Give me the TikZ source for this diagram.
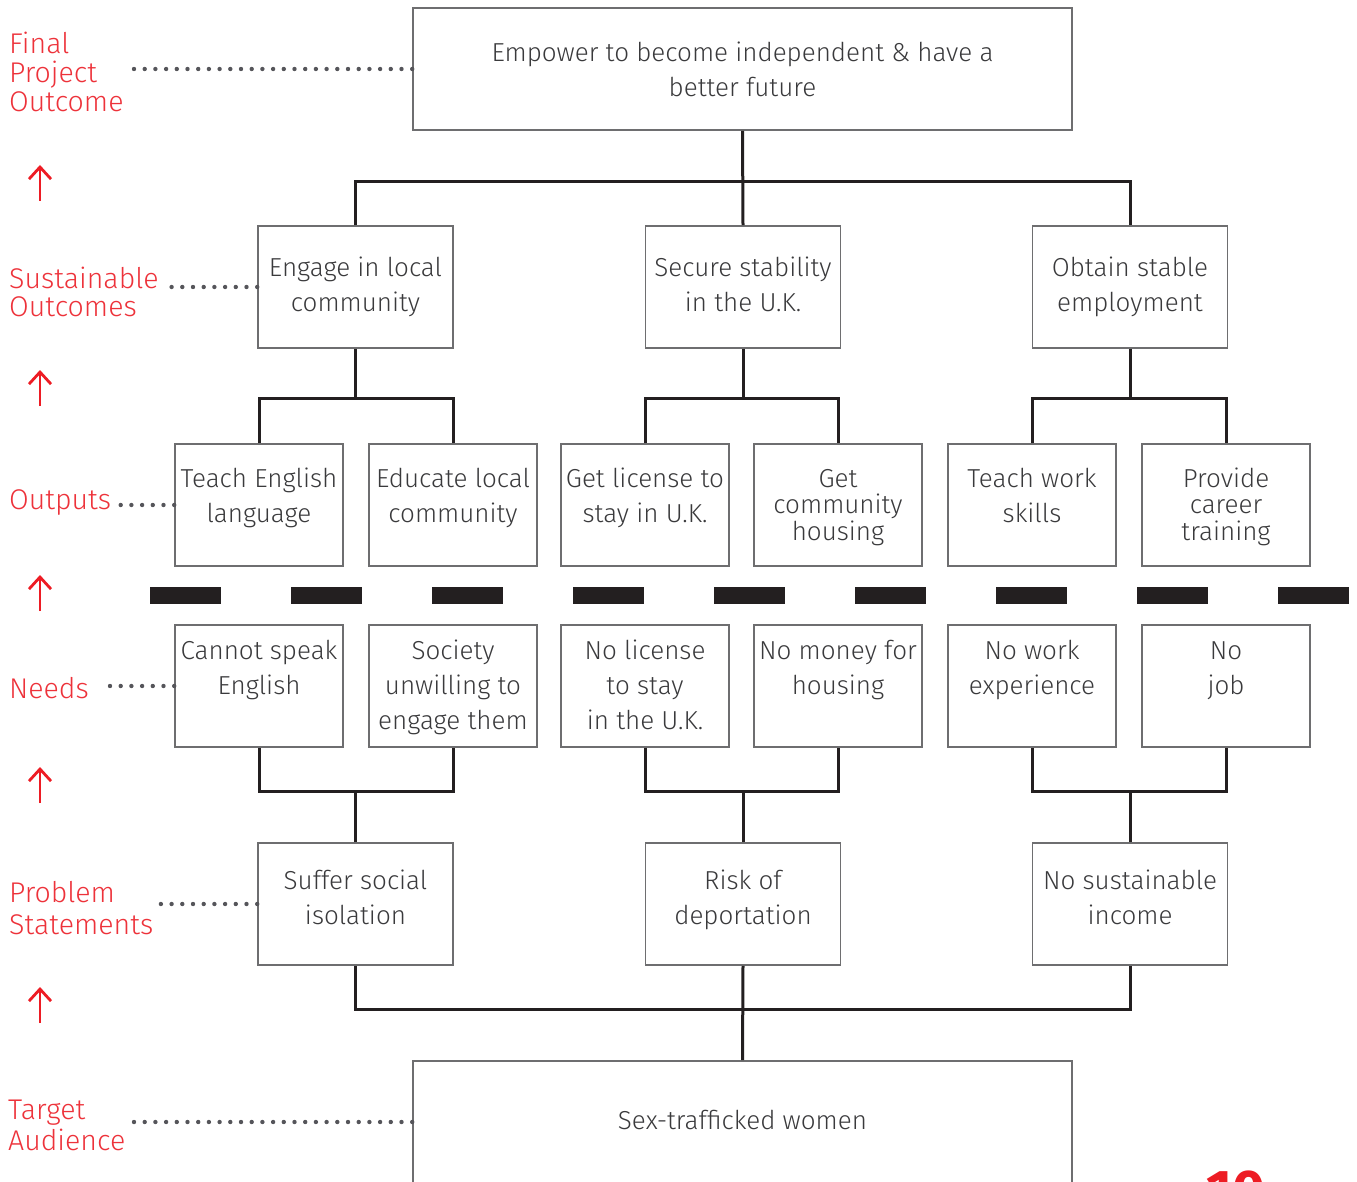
\documentclass[tikz,border=0pt]{standalone}
\usepackage{fontspec}
\setmainfont{Fira Sans}[UprightFont=* Light, BoldFont=* Bold]
\usepackage{xcolor}
\usepackage{tikz}
\usetikzlibrary{positioning,arrows.meta}

\definecolor{lblred}{RGB}{237,50,58}
\definecolor{arrred}{RGB}{237,28,36}
\definecolor{ink}{RGB}{35,31,32}
\definecolor{txtgray}{RGB}{58,58,60}
\definecolor{boxgray}{RGB}{110,110,112}
\definecolor{dotgray}{RGB}{85,85,90}

% text block of a box: width, gap above first line, lines
\newcommand{\cell}[3]{\parbox[c][122pt][t]{#1}{\centering\vspace*{#2}\strut#3}}

\begin{document}
\begin{tikzpicture}[x=1pt,y=-1pt,
  box/.style={draw=boxgray, line width=1.6pt, inner sep=0pt, text=txtgray,
    font=\fontsize{26}{35}\selectfont},
  lbl/.style={anchor=west, align=left, text=lblred, inner xsep=6pt, inner ysep=0pt,
    font=\fontsize{28.5}{29}\selectfont},
  link/.style={draw=ink, line width=3pt},
  dots/.style={draw=dotgray, line width=4.4pt, line cap=round, dash pattern=on 0pt off 10.7pt},
  uparr/.style={draw=arrred, line width=2.8pt, -{Straight Barb[length=12pt,width=22pt]}},
  blackbar/.style={fill=ink}]
\useasboundingbox (0,0) rectangle (1357,1182);
\clip (0,0) rectangle (1357,1182);
\def\sw{195pt}
\def\ow{168pt}

% top and bottom
\node[box] (top) at (742.5,69) {\cell{659pt}{29.5pt}{Empower to become independent \& have a\\better future}};
\node[box] (aud) at (742.5,1122) {\cell{659pt}{43.5pt}{Sex-trafficked women}};

% sustainable outcomes
\node[box] (s1) at (355.5,287) {\cell{\sw}{26.5pt}{Engage in local\\community}};
\node[box] (s2) at (743,287) {\cell{\sw}{26.5pt}{Secure stability\\in the U.K.}};
\node[box] (s3) at (1130,287) {\cell{\sw}{26.5pt}{Obtain stable\\employment}};

% outputs
\node[box] (o1) at (259,505) {\cell{\ow}{18.5pt}{Teach English\\language}};
\node[box] (o2) at (453,505) {\cell{\ow}{18.5pt}{Educate local\\community}};
\node[box] (o3) at (645,505) {\cell{\ow}{18.5pt}{Get license to\\stay in U.K.}};
\node[box] (o4) at (838,505) {\cell{\ow}{18.5pt}{Get\\[-8.5pt]community\\[-8.5pt]housing}};
\node[box] (o5) at (1032,505) {\cell{\ow}{18.5pt}{Teach work\\skills}};
\node[box] (o6) at (1226,505) {\cell{\ow}{18.5pt}{Provide\\[-8.5pt]career\\[-8.5pt]training}};

% needs
\node[box] (n1) at (259,686) {\cell{\ow}{9.5pt}{Cannot speak\\English}};
\node[box] (n2) at (453,686) {\cell{\ow}{9.5pt}{Society\\unwilling to\\engage them}};
\node[box] (n3) at (645,686) {\cell{\ow}{9.5pt}{No license\\to stay\\in the U.K.}};
\node[box] (n4) at (838,686) {\cell{\ow}{9.5pt}{No money for\\housing}};
\node[box] (n5) at (1032,686) {\cell{\ow}{9.5pt}{No work\\experience}};
\node[box] (n6) at (1226,686) {\cell{\ow}{9.5pt}{No\\job}};

% problem statements
\node[box] (p1) at (355.5,904) {\cell{\sw}{21.5pt}{Suffer social\\isolation}};
\node[box] (p2) at (743,904) {\cell{\sw}{21.5pt}{Risk of\\deportation}};
\node[box] (p3) at (1130,904) {\cell{\sw}{21.5pt}{No sustainable\\income}};

% tree
\draw[link] (top.south) -- (s2.north);
\draw[link] (s1.north) -- ++(0,-44) -| (s3.north);
\foreach \s/\a/\b in {s1/o1/o2, s2/o3/o4, s3/o5/o6} {
  \draw[link] (\a.north) -- ++(0,-45) coordinate (j\s) -| (\b.north);
  \draw[link] (\s.south) -- (\s.south |- j\s);
}
\foreach \p/\a/\b in {p1/n1/n2, p2/n3/n4, p3/n5/n6} {
  \draw[link] (\a.south) -- ++(0,44) coordinate (k\p) -| (\b.south);
  \draw[link] (\p.north) -- (\p.north |- k\p);
}
\draw[link] (p1.south) -- ++(0,44) -| (p3.south);
\draw[link] (p2.south) -- (aud.north);

% divider
\foreach \i in {0,...,8}
  \fill[blackbar] (150+141*\i,587) rectangle ++(71,17);

% row labels
\node[lbl] (lFin) at (3,72) {Final\\Project\\Outcome};
\node[lbl] (lSus) at (3,292) {Sustainable\\[-1pt]Outcomes};
\node[lbl] (lOut) at (3,503) {Outputs};
\node[lbl] (lNee) at (3,688) {Needs};
\node[lbl] (lPro) at (3,908) {Problem\\[3pt]Statements};
\node[lbl] (lTar) at (2,1125) {Target\\[2pt]Audience};

\draw[dots] (top.west) -- (lFin.east |- top.west);
\draw[dots] (s1.west) -- (lSus.east |- s1.west);
\draw[dots] (o1.west) -- (lOut.east |- o1.west);
\draw[dots] (n1.west) -- ([xshift=6pt]lNee.east |- n1.west);
\draw[dots] (p1.west) -- (lPro.east |- p1.west);
\draw[dots] (aud.west) -- (lTar.east |- aud.west);

\foreach \y in {165,370,575,767,987}
  \draw[uparr] (40,\y+36) -- (40,\y);

\node[anchor=north west, text=arrred, inner sep=0pt,
  font=\fontsize{56}{60}\selectfont\bfseries] (pnum) at (1206,1171) {10};
\end{tikzpicture}
\end{document}
